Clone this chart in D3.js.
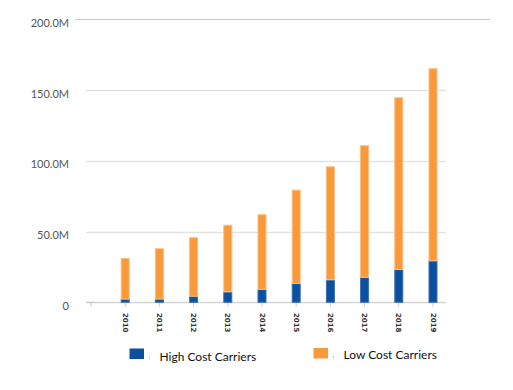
<!DOCTYPE html>
<html>
<head>
<meta charset="utf-8">
<script src="https://cdnjs.cloudflare.com/ajax/libs/d3/7.8.5/d3.min.js"></script>
<style>
html,body{margin:0;padding:0;background:#fff;}
svg{display:block;}
</style>
</head>
<body>
<div id="chart"></div>
<script>
// ---- data ----
const categories = ["", "2010", "2011", "2012", "2013", "2014", "2015", "2016", "2017", "2018", "2019"];
const highCost = [0.6, 2.3, 2.3, 4.3, 7.5, 9.2, 13.4, 16.0, 17.7, 23.3, 29.4];
const lowCost  = [0, 29.0, 35.9, 41.7, 47.3, 53.0, 66.2, 80.1, 93.3, 121.6, 136.0];
const yTicks = [0, 50, 100, 150, 200];
const yTickLabels = ["0", "50.0M", "100.0M", "150.0M", "200.0M"];
const seriesNames = ["High Cost Carriers", "Low Cost Carriers"];
const seriesColors = ["#0a509f", "#f9993a"];
const seriesEdge = ["#3a6fb0", "#fbbd80"];

const W = 513, H = 390;
const svg = d3.select("#chart").append("svg").attr("width", W).attr("height", H);

const x = d3.scaleBand().domain(categories).range([73.9, 450.1]).paddingInner(0.737).paddingOuter(0.3685);
const y = d3.scaleLinear().domain([0, 200]).range([302.3, 19.3]);

// gridlines
const gridX0 = 86, gridX1 = 446;
yTicks.forEach((t, i) => {
  const top = t === 200;
  svg.append("line")
    .attr("x1", top ? 75 : gridX0).attr("x2", top ? 490 : gridX1)
    .attr("y1", Math.round(y(t)) + 0.5).attr("y2", Math.round(y(t)) + 0.5)
    .attr("stroke", top ? "#c9c9c9" : (t === 0 ? "#d4d4d4" : "#e3e3e3"))
    .attr("stroke-width", top ? 1.2 : 1.5);
});

// y labels
const yAxis = d3.axisLeft(y).tickValues(yTicks).tickFormat((d, i) => yTickLabels[i]).tickSize(0).tickPadding(0);
const gy = svg.append("g").attr("transform", "translate(69,3.5)").call(yAxis);
gy.select(".domain").remove();
gy.selectAll("text").attr("font-family", "Lato, 'Open Sans', sans-serif").attr("font-size", "11px").attr("fill", "#555").attr("font-weight", "normal");

// stacked bars
const rows = categories.map((c, i) => ({cat: c, high: highCost[i], low: lowCost[i]}));
const stack = d3.stack().keys(["high", "low"])(rows);
stack.forEach((layer, li) => {
  svg.append("g").selectAll("rect").data(layer).join("rect")
    .attr("x", d => x(d.data.cat) + 0.5)
    .attr("width", x.bandwidth() - 1)
    .attr("y", d => y(d[1]) + 0.5)
    .attr("height", d => Math.max(0, y(d[0]) - y(d[1]) - 0.5))
    .attr("fill", seriesColors[li])
    .attr("fill-opacity", d => d.data.cat === "" ? 0.35 : 1)
    .attr("stroke", seriesEdge[li])
    .attr("stroke-opacity", d => d.data.cat === "" ? 0 : 1)
    .attr("stroke-width", 1);
});

// x axis ticks & labels
const xAxis = d3.axisBottom(x).tickSize(4).tickPadding(0);
const gx = svg.append("g").attr("transform", "translate(0,303)").call(xAxis);
gx.select(".domain").remove();
gx.selectAll(".tick line").attr("stroke", "#cfcfcf");
gx.selectAll("text")
  .attr("font-family", "'DejaVu Sans', sans-serif").attr("font-size", "7px").attr("font-weight", "bold").attr("fill", "#333")
  .attr("text-anchor", "start")
  .attr("transform", "translate(-2.5,10) rotate(90)")
  .attr("dy", "0em").attr("y", 0).attr("x", 0);

// legend
const legendPos = [{sx: 129.5, sy: 348.5, tx: 159.5, ty: 361}, {sx: 313.5, sy: 348, tx: 343.5, ty: 358.5}];
seriesNames.forEach((n, i) => {
  const p = legendPos[i];
  svg.append("rect").attr("x", p.sx).attr("y", p.sy).attr("width", 14.5).attr("height", 10.5).attr("fill", seriesColors[i]);
  svg.append("line").attr("x1", p.sx + 20).attr("x2", p.sx + 20).attr("y1", p.sy + 8).attr("y2", p.sy + 10).attr("stroke", "#bbb").attr("stroke-width", 0.8);
  svg.append("text").attr("x", p.tx).attr("y", p.ty).text(n)
    .attr("font-family", "Lato, 'Open Sans', sans-serif").attr("font-size", "12px").attr("fill", "#111");
});
</script>
</body>
</html>
